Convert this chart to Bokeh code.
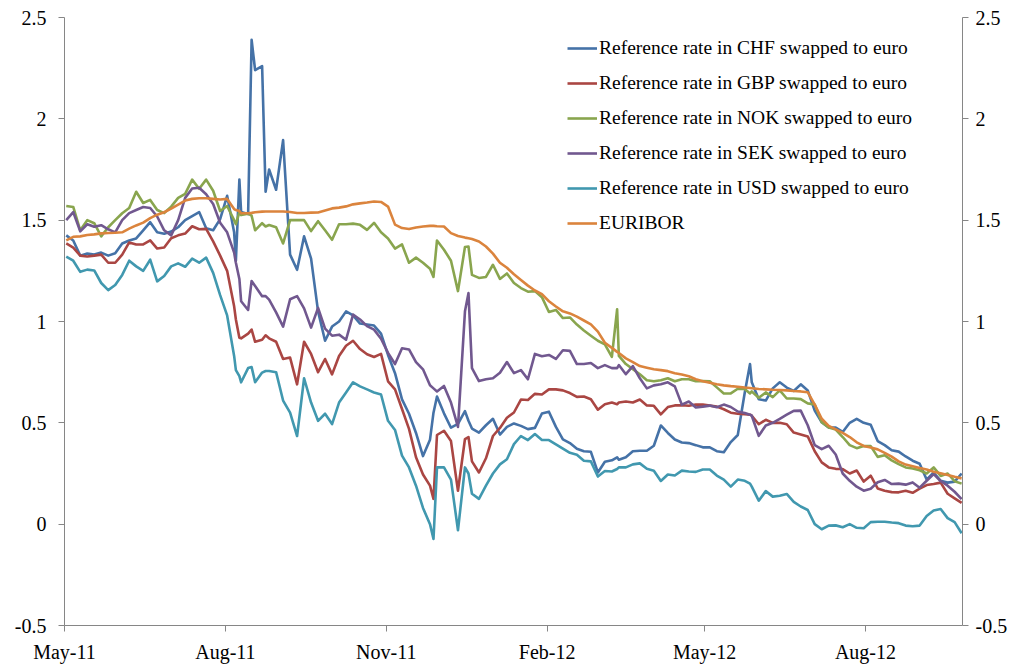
from datetime import datetime, timedelta
from bokeh.plotting import figure
from bokeh.models import (Range1d, LinearAxis, FixedTicker, DatetimeTickFormatter,
                          CustomJSTickFormatter, Legend, LegendItem)
from bokeh.embed import file_html
from bokeh.resources import INLINE

# ---------------- data ----------------
START = datetime(2011, 5, 1)
# observation days, counted from 1 May 2011
day_offset = [1, 5, 9, 13, 17, 21, 25, 29, 33, 37, 41, 45, 49, 53, 57, 61, 65, 69, 73, 77, 81, 85, 89, 93,
              97, 98, 100, 101, 105, 107, 109, 113, 115, 117, 121, 125, 129, 133, 137, 141, 145, 149, 153, 157,
              161, 165, 169, 173, 177, 181, 185,
              189, 193, 197, 201, 205, 209, 211, 213, 217, 221, 225, 229, 231, 233, 237, 241, 245, 249, 253, 257,
              261, 265, 269, 273, 277,
              281, 285, 289, 293, 297, 301, 305, 309, 313, 316, 317, 321, 325, 329, 333, 337, 341, 345, 349, 353,
              357, 361, 365, 369,
              373, 377, 381, 385, 389, 392, 393, 397, 401, 405, 409, 413, 417, 421, 425, 429, 433, 437, 441, 445,
              449, 453, 457, 461, 465, 469, 473, 477, 481, 485, 489, 493, 497, 501, 505, 509, 513]

chf = [1.425, 1.40, 1.325, 1.335, 1.33, 1.34, 1.325, 1.337, 1.385, 1.40, 1.41, 1.45, 1.49, 1.44, 1.433, 1.444,
       1.465, 1.50, 1.52, 1.54, 1.46, 1.45, 1.505, 1.62,
       1.44, 1.30, 1.70, 1.54, 1.53, 2.39, 2.24, 2.26, 1.64, 1.75, 1.65, 1.895, 1.33, 1.255, 1.42, 1.31, 1.05,
       0.905, 0.975, 1.00, 1.05, 1.03, 0.99, 0.985, 0.98, 0.94, 0.835,
       0.745, 0.616, 0.545, 0.45, 0.336, 0.417, 0.55, 0.63, 0.547, 0.476, 0.495, 0.558, 0.51, 0.472, 0.452,
       0.488, 0.52, 0.442, 0.48, 0.497, 0.485, 0.469, 0.475, 0.546, 0.555,
       0.48, 0.418, 0.40, 0.372, 0.36, 0.357, 0.255, 0.308, 0.315, 0.33, 0.318, 0.33, 0.36, 0.362, 0.362, 0.387,
       0.487, 0.45, 0.418, 0.403, 0.40, 0.39, 0.379, 0.379,
       0.36, 0.355, 0.405, 0.44, 0.65, 0.79, 0.70, 0.616, 0.61, 0.67, 0.70, 0.674, 0.657, 0.69, 0.66, 0.56,
       0.503, 0.477, 0.477, 0.455, 0.50, 0.52, 0.50, 0.49, 0.41, 0.39, 0.365, 0.358, 0.334, 0.313, 0.298,
       0.22, 0.255, 0.214, 0.205, 0.21, 0.25]

gbp = [1.385, 1.365, 1.325, 1.321, 1.325, 1.33, 1.29, 1.29, 1.33, 1.39, 1.38, 1.38, 1.40, 1.36, 1.365, 1.411,
       1.425, 1.434, 1.47, 1.455, 1.457, 1.395, 1.325, 1.25,
       1.075, 1.01, 0.92, 0.917, 0.94, 0.96, 0.90, 0.91, 0.932, 0.917, 0.90, 0.815, 0.822, 0.69, 0.90, 0.84,
       0.75, 0.815, 0.739, 0.83, 0.88, 0.905, 0.864, 0.838, 0.825, 0.84, 0.705,
       0.665, 0.568, 0.47, 0.33, 0.245, 0.19, 0.125, 0.44, 0.461, 0.41, 0.165, 0.42, 0.43, 0.31, 0.255, 0.325,
       0.435, 0.475, 0.525, 0.551, 0.615, 0.613, 0.643, 0.64, 0.665,
       0.665, 0.66, 0.647, 0.628, 0.63, 0.616, 0.565, 0.592, 0.60, 0.592, 0.60, 0.605, 0.60, 0.615, 0.586,
       0.584, 0.542, 0.578, 0.586, 0.587, 0.584, 0.59, 0.59, 0.585,
       0.58, 0.567, 0.55, 0.545, 0.542, 0.54, 0.535, 0.493, 0.515, 0.50, 0.50, 0.493, 0.452, 0.443, 0.433,
       0.36, 0.305, 0.28, 0.273, 0.272, 0.25, 0.265, 0.21, 0.239, 0.176, 0.165, 0.158, 0.157, 0.165, 0.155,
       0.175, 0.193, 0.198, 0.205, 0.15, 0.127, 0.105]

nok = [1.57, 1.565, 1.45, 1.50, 1.485, 1.42, 1.465, 1.50, 1.534, 1.56, 1.64, 1.585, 1.60, 1.55, 1.535, 1.567,
       1.61, 1.63, 1.70, 1.655, 1.70, 1.645, 1.545, 1.57,
       1.50, 1.48, 1.54, 1.525, 1.532, 1.522, 1.45, 1.485, 1.469, 1.476, 1.465, 1.385, 1.50, 1.50, 1.50, 1.446,
       1.495, 1.45, 1.403, 1.48, 1.48, 1.483, 1.477, 1.452, 1.487, 1.44, 1.41,
       1.36, 1.38, 1.29, 1.315, 1.29, 1.26, 1.22, 1.40, 1.354, 1.30, 1.15, 1.368, 1.37, 1.23, 1.215, 1.22,
       1.28, 1.21, 1.237, 1.19, 1.165, 1.147, 1.15, 1.12, 1.047,
       1.057, 1.017, 1.02, 0.985, 0.956, 0.93, 0.905, 0.887, 0.825, 1.06, 0.83, 0.79, 0.765, 0.74, 0.71,
       0.705, 0.71, 0.72, 0.705, 0.715, 0.715, 0.705, 0.706, 0.705,
       0.675, 0.645, 0.645, 0.668, 0.667, 0.645, 0.655, 0.624, 0.65, 0.627, 0.66, 0.62, 0.62, 0.617, 0.596,
       0.59, 0.503, 0.477, 0.467, 0.43, 0.39, 0.375, 0.386, 0.385, 0.332, 0.34, 0.315, 0.296, 0.28, 0.275,
       0.266, 0.25, 0.28, 0.238, 0.25, 0.212, 0.20]

sek = [1.50, 1.54, 1.445, 1.48, 1.468, 1.475, 1.455, 1.44, 1.50, 1.535, 1.55, 1.565, 1.56, 1.518, 1.45, 1.425,
       1.50, 1.61, 1.656, 1.66, 1.628, 1.58, 1.487, 1.44,
       1.34, 1.29, 1.21, 1.10, 1.057, 1.20, 1.175, 1.125, 1.125, 1.108, 1.045, 0.975, 1.11, 1.125, 1.065, 0.97,
       1.067, 0.965, 0.93, 0.935, 0.91, 1.034, 1.01, 0.977, 0.96, 0.915, 0.845,
       0.79, 0.868, 0.862, 0.80, 0.764, 0.685, 0.67, 0.655, 0.682, 0.60, 0.48, 1.05, 1.14, 0.77, 0.706, 0.715,
       0.72, 0.747, 0.80, 0.745, 0.76, 0.715, 0.84, 0.829, 0.835,
       0.815, 0.858, 0.855, 0.79, 0.79, 0.795, 0.77, 0.785, 0.77, 0.77, 0.785, 0.74, 0.78, 0.72, 0.67, 0.685,
       0.69, 0.70, 0.68, 0.59, 0.605, 0.576, 0.58, 0.585,
       0.577, 0.59, 0.578, 0.556, 0.549, 0.54, 0.535, 0.436, 0.487, 0.50, 0.52, 0.54, 0.559, 0.56, 0.488,
       0.39, 0.37, 0.387, 0.344, 0.25, 0.214, 0.185, 0.165, 0.175, 0.207, 0.218, 0.198, 0.20, 0.195, 0.206,
       0.18, 0.214, 0.247, 0.213, 0.19, 0.16, 0.124]

usd = [1.32, 1.30, 1.245, 1.256, 1.252, 1.19, 1.155, 1.18, 1.23, 1.30, 1.272, 1.25, 1.305, 1.198, 1.225, 1.272,
       1.287, 1.27, 1.31, 1.29, 1.315, 1.24, 1.13, 1.03,
       0.83, 0.76, 0.73, 0.70, 0.77, 0.775, 0.70, 0.748, 0.756, 0.756, 0.75, 0.61, 0.55, 0.435, 0.72, 0.60,
       0.51, 0.545, 0.494, 0.60, 0.65, 0.70, 0.68, 0.665, 0.65, 0.64, 0.51,
       0.465, 0.338, 0.28, 0.19, 0.08, 0.0, -0.073, 0.28, 0.28, 0.22, -0.03, 0.28, 0.25, 0.15, 0.125, 0.19,
       0.25, 0.295, 0.32, 0.395, 0.435, 0.415, 0.445, 0.415, 0.415,
       0.394, 0.373, 0.352, 0.343, 0.313, 0.31, 0.235, 0.262, 0.26, 0.272, 0.28, 0.28, 0.295, 0.30, 0.273,
       0.264, 0.213, 0.245, 0.24, 0.264, 0.26, 0.258, 0.27, 0.27,
       0.24, 0.22, 0.185, 0.22, 0.214, 0.20, 0.185, 0.116, 0.163, 0.136, 0.14, 0.149, 0.11, 0.087, 0.07, 0.0,
       -0.025, -0.007, -0.006, -0.015, 0.0, -0.018, -0.02, 0.01, 0.012, 0.012, 0.008, 0.005, -0.007, -0.01,
       -0.007, 0.04, 0.067, 0.075, 0.03, 0.01, -0.045]

euribor = [1.40, 1.418, 1.42, 1.427, 1.43, 1.435, 1.437, 1.438, 1.44, 1.458, 1.474, 1.488, 1.51, 1.527, 1.539,
           1.557, 1.577, 1.597, 1.605, 1.608, 1.608, 1.605, 1.602, 1.605,
           1.555, 1.55, 1.545, 1.534, 1.534, 1.536, 1.539, 1.542, 1.543, 1.543, 1.543, 1.543, 1.54, 1.535,
           1.535, 1.537, 1.538, 1.548, 1.558, 1.562, 1.568, 1.578, 1.583, 1.587, 1.592, 1.59, 1.567,
           1.478, 1.461, 1.456, 1.464, 1.469, 1.472, 1.472, 1.47, 1.469, 1.436, 1.422, 1.414, 1.411, 1.407,
           1.395, 1.37, 1.335, 1.29, 1.265, 1.233, 1.205, 1.177, 1.153, 1.135, 1.10,
           1.074, 1.05, 1.04, 1.024, 1.005, 0.986, 0.95, 0.895, 0.87, 0.85, 0.845, 0.818, 0.80, 0.78, 0.772,
           0.764, 0.76, 0.755, 0.745, 0.738, 0.73, 0.715, 0.705, 0.698,
           0.69, 0.685, 0.681, 0.678, 0.674, 0.672, 0.671, 0.667, 0.665, 0.663, 0.662, 0.66, 0.657, 0.655,
           0.651, 0.59, 0.52, 0.485, 0.468, 0.45, 0.43, 0.404, 0.386, 0.378, 0.369, 0.352, 0.333, 0.31, 0.294,
           0.286, 0.277, 0.27, 0.259, 0.251, 0.243, 0.234, 0.226]

series_names = ["Reference rate in CHF swapped to euro",
                "Reference rate in GBP swapped to euro",
                "Reference rate in NOK swapped to euro",
                "Reference rate in SEK swapped to euro",
                "Reference rate in USD swapped to euro",
                "EURIBOR"]
series_values = [chf, gbp, nok, sek, usd, euribor]
series_colors = ["#4572A7", "#AA4643", "#89A54E", "#71588F", "#4198AF", "#DB843D"]

x_tick_dates = [datetime(2011, 5, 1), datetime(2011, 8, 1), datetime(2011, 11, 1),
                datetime(2012, 2, 1), datetime(2012, 5, 1), datetime(2012, 8, 1)]
y_ticks = [-0.5, 0, 0.5, 1, 1.5, 2, 2.5]

for s in series_values:
    assert len(s) == len(day_offset), len(s)

dates = [START + timedelta(days=d) for d in day_offset]


def to_ms(d):
    return (d - datetime(1970, 1, 1)).total_seconds() * 1000.0


# ---------------- figure ----------------
p = figure(width=1020, height=665, output_backend="svg", toolbar_location=None,
           x_axis_type="datetime",
           x_range=Range1d(START, START + timedelta(days=513.5)),
           y_range=Range1d(-0.5, 2.5),
           min_border_left=64, min_border_right=58, min_border_top=17, min_border_bottom=38)
p.xgrid.visible = False
p.ygrid.visible = False
p.outline_line_color = None
p.background_fill_color = "white"
p.border_fill_color = "white"

FONT = "Liberation Serif"
AXIS_GRAY = "#868686"


def style_axis(ax, standoff):
    ax.axis_line_color = AXIS_GRAY
    ax.axis_line_width = 1
    ax.major_tick_line_color = AXIS_GRAY
    ax.minor_tick_line_color = None
    ax.major_tick_out = 6
    ax.major_tick_in = 0
    ax.major_label_text_font = FONT
    ax.major_label_text_font_size = "20px"
    ax.major_label_text_color = "black"
    ax.major_label_standoff = standoff


xax = p.xaxis[0]
xax.ticker = FixedTicker(ticks=[to_ms(d) for d in x_tick_dates])
fmt = "%b-%y"
xax.formatter = DatetimeTickFormatter(microseconds=fmt, milliseconds=fmt, seconds=fmt, minsec=fmt,
                                      minutes=fmt, hourmin=fmt, hours=fmt, days=fmt, months=fmt,
                                      years=fmt)
style_axis(xax, 9)

yax = p.yaxis[0]
yax.ticker = FixedTicker(ticks=y_ticks)
yax.formatter = CustomJSTickFormatter(code="return String(tick);")
style_axis(yax, 12)

rax = LinearAxis(ticker=FixedTicker(ticks=y_ticks),
                 formatter=CustomJSTickFormatter(code="return String(tick);"))
style_axis(rax, 7)
p.add_layout(rax, "right")

items = []
for name, vals, col in zip(series_names, series_values, series_colors):
    r = p.line(dates, vals, line_color=col, line_width=2.6, line_join="round")
    items.append(LegendItem(label=name, renderers=[r]))

legend = Legend(items=items, location=(503, 391), orientation="vertical",
                border_line_color=None, background_fill_alpha=0,
                label_text_font=FONT, label_text_font_size="19.5px", label_text_color="black",
                glyph_width=30, glyph_height=22, label_height=22, label_standoff=2,
                spacing=13, padding=0, margin=0)
p.add_layout(legend)

open("out.html", "w").write(file_html(p, INLINE))
